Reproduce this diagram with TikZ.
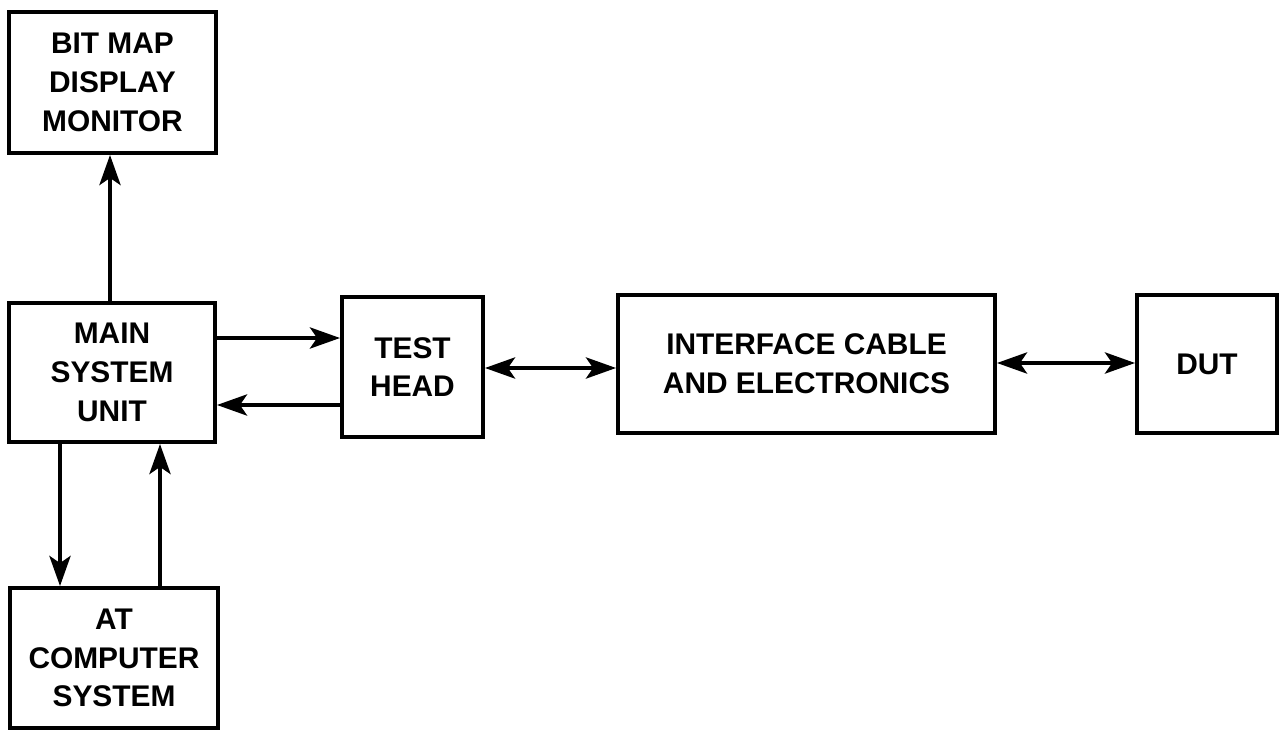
\documentclass[tikz,border=0pt]{standalone}
\usepackage{fontspec}
\setmainfont{Liberation Sans}
\usetikzlibrary{arrows.meta}

\tikzset{
    headtip/.tip={Stealth[length=6mm,width=4.2mm,inset=1.4mm]},
    blockbox/.style={draw, line width=2.2pt, align=center, inner sep=0pt,
        font=\bfseries\fontsize{17}{22}\selectfont},
    link/.style={line width=2.6pt, -headtip},
    duallink/.style={line width=2.6pt, headtip-headtip}
}

\begin{document}
\begin{tikzpicture}
        \useasboundingbox (0,0) rectangle (25.76,14.6);

            \node[blockbox, minimum width=4.14cm, minimum height=2.82cm] (monitor) at (2.25,12.95) {BIT MAP\\DISPLAY\\MONITOR};
            \node[blockbox, minimum width=4.12cm, minimum height=2.78cm] (main) at (2.24,7.15) {MAIN\\SYSTEM\\UNIT};
            \node[blockbox, minimum width=4.16cm, minimum height=2.8cm] (pc) at (2.28,1.44) {AT\\COMPUTER\\SYSTEM};
            \node[blockbox, minimum width=2.82cm, minimum height=2.8cm] (head) at (8.25,7.26) {TEST\\HEAD};
            \node[blockbox, minimum width=7.54cm, minimum height=2.76cm] (iface) at (16.13,7.32) {INTERFACE CABLE\\AND ELECTRONICS};
            \node[blockbox, minimum width=2.8cm, minimum height=2.76cm] (dut) at (24.14,7.32) {DUT};

        % connections
        \draw[link] (main.north -| 2.2,0) -- (monitor.south -| 2.2,0);
        \draw[link] (main.east |- 0,7.84) -- (head.west |- 0,7.84);
        \draw[link] (head.west |- 0,6.5) -- (main.east |- 0,6.5);
        \draw[link] (main.south -| 1.2,0) -- (pc.north -| 1.2,0);
        \draw[link] (pc.north -| 3.2,0) -- (main.south -| 3.2,0);
        \draw[duallink] (head.east |- 0,7.24) -- (iface.west |- 0,7.24);
        \draw[duallink] (iface.east |- 0,7.34) -- (dut.west |- 0,7.34);
    \end{tikzpicture}
\end{document}
